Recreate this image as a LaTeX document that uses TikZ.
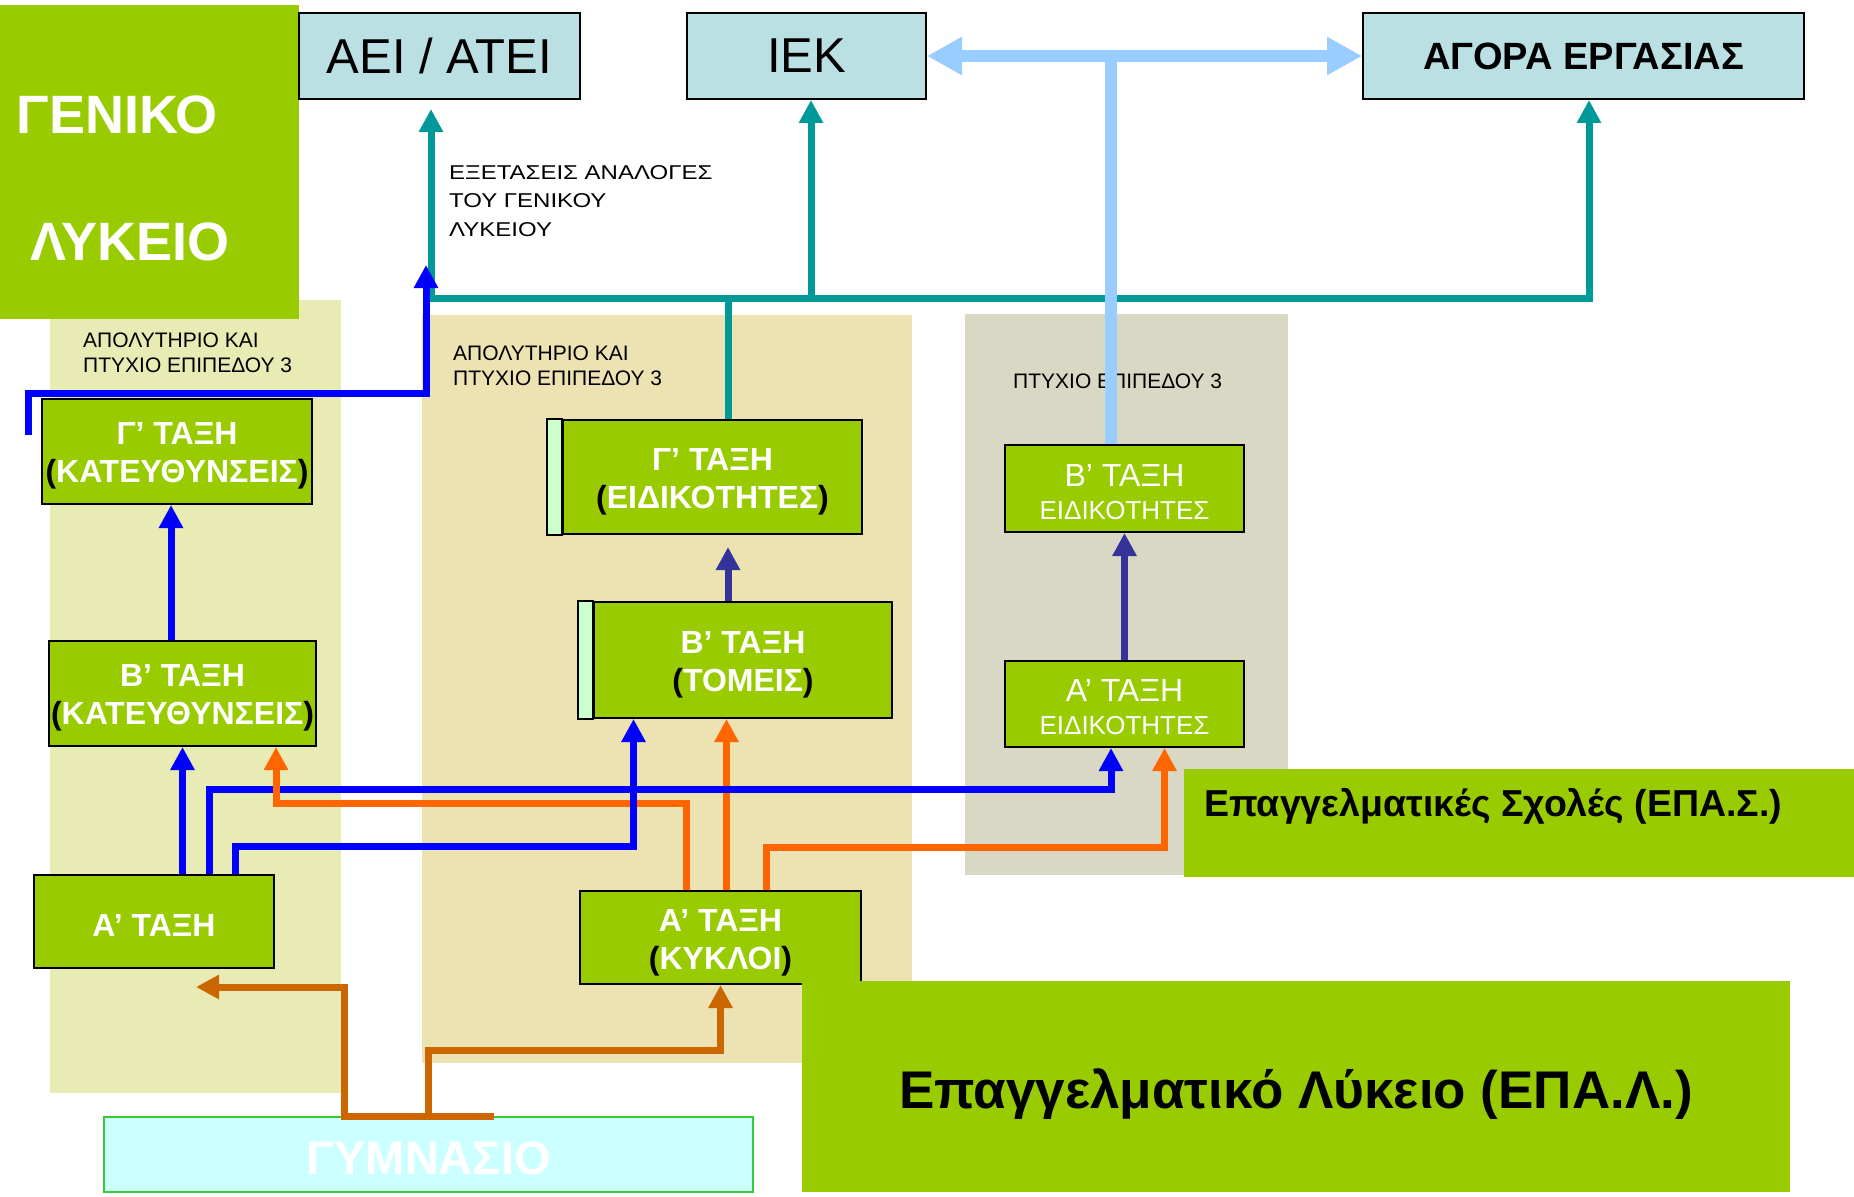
\documentclass[tikz,border=0pt]{standalone}
\usepackage{fontspec}
\setmainfont{Liberation Sans}
\newfontfamily\widefont[FakeStretch=1.2]{Liberation Sans}
\usetikzlibrary{arrows.meta}
\newcommand\myfs[2]{\fontsize{#1}{#2}\selectfont}
\definecolor{grn}{HTML}{99CC00}
\definecolor{topc}{HTML}{BBE0E3}
\definecolor{panL}{HTML}{E8EBB4}
\definecolor{panM}{HTML}{ECE2B2}
\definecolor{panR}{HTML}{D9D8C5}
\definecolor{stripc}{HTML}{CCFFCC}
\definecolor{gymc}{HTML}{CCFFFF}
\definecolor{gymb}{HTML}{33CC33}
\definecolor{tealc}{HTML}{009999}
\definecolor{bluec}{HTML}{0000FF}
\definecolor{orc}{HTML}{FF6600}
\definecolor{brc}{HTML}{CC6600}
\definecolor{dbc}{HTML}{333399}
\definecolor{lbc}{HTML}{99CCFF}
\tikzset{
  box/.style={draw=black, line width=2pt, fill=grn, inner sep=0pt, text=white, align=center, font=\bfseries\myfs{32}{38}},
  ebox/.style={draw=black, line width=2pt, fill=grn, inner sep=0pt, text=white, align=center, font=\myfs{32}{33}},
  topbox/.style={draw=black, line width=2pt, fill=topc, inner sep=0pt, text=black},
  lbl/.style={inner sep=0pt, align=left, text=black, font=\myfs{21}{25}},
  ln/.style={line width=7pt},
  tip/.style={-{Triangle[length=23pt,width=23pt]}},
  tl/.style={ln, draw=tealc},
  bl/.style={ln, draw=bluec},
  ol/.style={ln, draw=orc},
  brl/.style={ln, draw=brc},
  dbl/.style={ln, draw=dbc},
  lbl2/.style={line width=12pt, draw=lbc},
}
\begin{document}
\begin{tikzpicture}[x=1pt,y=-1pt]
\useasboundingbox (0,0) rectangle (1854,1196);
\fill[white] (0,0) rectangle (1854,1196);
% panels
\fill[panL] (50,300) rectangle (341,1093);
\fill[panM] (422,315) rectangle (912,1063);
\fill[panR] (965,314) rectangle (1288,875);
% Geniko Lykeio
\node[fill=grn, minimum width=299pt, minimum height=314pt, inner sep=0pt, anchor=north west] (GL) at (0,5) {};
\node[anchor=base west, inner sep=0pt, text=white, font=\bfseries\myfs{54}{54}] (GLt1) at (16.5,133) {ΓΕΝΙΚΟ};
\node[anchor=base west, inner sep=0pt, text=white, font=\bfseries\myfs{54}{54}] (GLt2) at (30,260) {ΛΥΚΕΙΟ};
% top boxes
\node[topbox, minimum width=281pt, minimum height=86pt, font=\myfs{49}{49}] (AEI) at (439.5,56) {ΑΕΙ / ΑΤΕΙ};
\node[topbox, minimum width=239pt, minimum height=86pt, font=\myfs{49}{49}] (IEK) at (806.5,56) {ΙΕΚ};
\node[topbox, minimum width=441pt, minimum height=86pt, font=\bfseries\myfs{38}{38}] (AGORA) at (1583.5,56) {ΑΓΟΡΑ ΕΡΓΑΣΙΑΣ};
% labels
\node[lbl, font=\widefont\myfs{20}{28.3}, anchor=base west] (exet) at (449,236) {ΕΞΕΤΑΣΕΙΣ ΑΝΑΛΟΓΕΣ\\ΤΟΥ ΓΕΝΙΚΟΥ\\ΛΥΚΕΙΟΥ};
\node[lbl, anchor=base west] (aplL) at (83,372) {ΑΠΟΛΥΤΗΡΙΟ ΚΑΙ\\ΠΤΥΧΙΟ ΕΠΙΠΕΔΟΥ 3};
\node[lbl, anchor=base west] (aplM) at (453,385) {ΑΠΟΛΥΤΗΡΙΟ ΚΑΙ\\ΠΤΥΧΙΟ ΕΠΙΠΕΔΟΥ 3};
\node[lbl, anchor=base west] (ptR) at (1013,388) {ΠΤΥΧΙΟ ΕΠΙΠΕΔΟΥ 3};
% general lyceum boxes
\node[box, minimum width=270pt, minimum height=105pt] (G3K) at (177,451.5) {\rule{0pt}{31pt}Γ’ ΤΑΞΗ\\\textcolor{black}{(}ΚΑΤΕΥΘΥΝΣΕΙΣ\textcolor{black}{)}};
\node[box, minimum width=267pt, minimum height=105pt] (B2K) at (182.5,693.5) {\rule{0pt}{31pt}Β’ ΤΑΞΗ\\\textcolor{black}{(}ΚΑΤΕΥΘΥΝΣΕΙΣ\textcolor{black}{)}};
\node[box, minimum width=240pt, minimum height=93pt] (A1) at (154,921.5) {\rule{0pt}{30pt}Α’ ΤΑΞΗ};
% EPAL boxes
\node[box, minimum width=299pt, minimum height=114pt] (G3E) at (712.5,477) {\rule{0pt}{31pt}Γ’ ΤΑΞΗ\\\textcolor{black}{(}ΕΙΔΙΚΟΤΗΤΕΣ\textcolor{black}{)}};
\filldraw[fill=stripc, draw=black, line width=2pt] (G3E.south west) rectangle ([xshift=-15pt]G3E.north west);
\node[box, minimum width=298pt, minimum height=116pt] (B2T) at (743,660) {\rule{0pt}{32pt}Β’ ΤΑΞΗ\\\textcolor{black}{(}ΤΟΜΕΙΣ\textcolor{black}{)}};
\filldraw[fill=stripc, draw=black, line width=2pt] (B2T.south west) rectangle ([xshift=-15pt]B2T.north west);
\node[box, minimum width=281pt, minimum height=93pt] (A1K) at (720.5,937.5) {\rule{0pt}{32pt}Α’ ΤΑΞΗ\\\textcolor{black}{(}ΚΥΚΛΟΙ\textcolor{black}{)}};
% EPAS boxes
\node[ebox, minimum width=239pt, minimum height=87pt] (B2E) at (1124.5,488.5) {\rule{0pt}{30pt}Β’ ΤΑΞΗ\\{\myfs{26}{33}ΕΙΔΙΚΟΤΗΤΕΣ}};
\node[ebox, minimum width=239pt, minimum height=86pt] (A1E) at (1124.5,704) {\rule{0pt}{29pt}Α’ ΤΑΞΗ\\{\myfs{26}{33}ΕΙΔΙΚΟΤΗΤΕΣ}};
% big title boxes
\node[fill=grn, minimum width=670pt, minimum height=108pt, inner sep=0pt] (EPAS) at (1519,823) {};
\node[anchor=base west, inner sep=0pt, font=\bfseries\myfs{37.5}{37.5}] (EPASt) at (1204,816) {Επαγγελματικές Σχολές (ΕΠΑ.Σ.)};
\node[fill=grn, minimum width=988pt, minimum height=211pt, inner sep=0pt] (EPAL) at (1296,1086.5) {};
\node[anchor=base, inner sep=0pt, font=\bfseries\myfs{53}{53}] (EPALt) at (1296,1108) {Επαγγελματικό Λύκειο (ΕΠΑ.Λ.)};
% gymnasio
\node[fill=gymc, draw=gymb, line width=2pt, minimum width=649pt, minimum height=75pt, inner sep=0pt, text=white, font=\bfseries\myfs{47}{47}] (GYM) at (428.5,1154.5) {\rule{0pt}{41pt}ΓΥΜΝΑΣΙΟ};
% teal connectors
\coordinate (busL) at (431,298);
\coordinate (busR) at (1589,298);
\draw[tl, {Triangle[length=23pt,width=23pt]}-{Triangle[length=23pt,width=23pt]}, shorten <=9pt] (busL |- AEI.south) -- (busL) -- (busR) -- (busR |- AGORA.south);
\coordinate (tIEK) at (811,298);
\draw[tl, tip] (tIEK) -- (tIEK |- IEK.south);
\coordinate (g3top) at ([xshift=15.5pt]G3E.north);
\draw[tl] (g3top) -- (g3top |- busL);
% light blue
\draw[lbl2, {Triangle[length=35pt,width=36pt]}-{Triangle[length=35pt,width=36pt]}] (IEK.east) -- (AGORA.west);
\coordinate (lbj) at (1111,56);
\draw[lbl2] (lbj) -- (lbj |- B2E.north);
% blue from G3K to exams
\coordinate (bstart) at ([xshift=-13pt,yshift=16.5pt]G3K.west);
\coordinate (bend) at (426,265);
\draw[bl, tip] (bstart) |- (426,393) -- (bend);
% blue B2K -> G3K
\coordinate (c1) at ([xshift=-6pt]G3K.south);
\draw[bl, tip] (c1 |- B2K.north) -- (c1);
% blue A1 -> B2K
\draw[bl, tip] (A1.north -| B2K.south) -- (B2K.south);
% orange A1K -> B2T
\coordinate (o2) at ([xshift=6pt]A1K.north);
\draw[ol, tip] (o2) -- (o2 |- B2T.south);
% blue A1 -> A1E
\draw[bl, tip] ([xshift=55pt]A1.north) -- ++(0,-85) -| ([xshift=-13.5pt]A1E.south);
% orange A1K -> B2K
\draw[ol, tip] ([xshift=-34pt]A1K.north) -- ++(0,-87) -| ([xshift=93.5pt]B2K.south);
% blue A1 -> B2T
\draw[bl, tip] ([xshift=81pt]A1.north) -- ++(0,-28) -| ([xshift=-109.5pt]B2T.south);
% orange A1K -> A1E
\draw[ol, tip] ([xshift=45.5pt]A1K.north) -- ++(0,-43) -| ([xshift=40pt]A1E.south);
% dark blue
\coordinate (d1) at ([xshift=-15pt]B2T.north);
\draw[dbl, tip, shorten >=12pt] (d1) -- (d1 |- G3E.south);
\draw[dbl, tip] (A1E.north) -- (B2E.south);
% brown from gymnasio
\draw[brl, tip] (GYM.north) -- ++(0,-66) -| (A1K.south);
\coordinate (gR) at ([xshift=65.5pt]GYM.north);
\coordinate (gL) at ([xshift=-84.5pt]GYM.north);
\coordinate (a1arr) at (196,987);
\draw[brl, tip] (gR) -- (gL) |- (a1arr);
\end{tikzpicture}
\end{document}
